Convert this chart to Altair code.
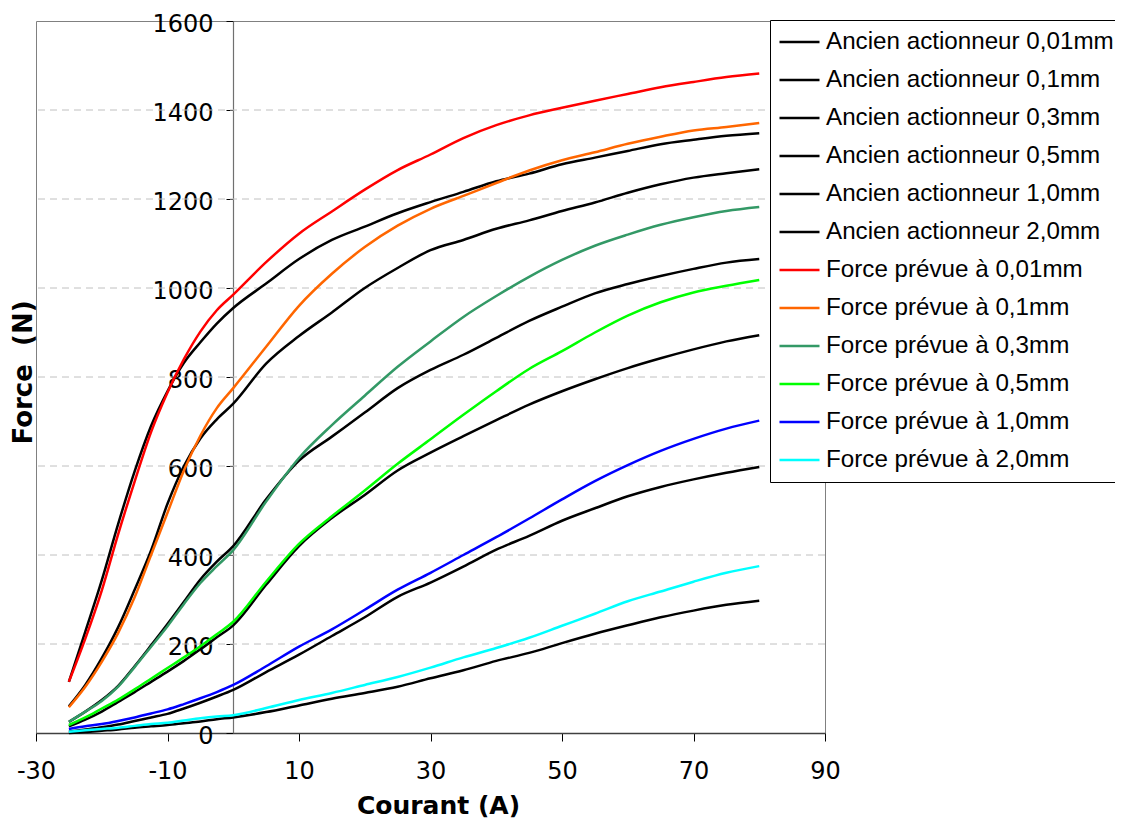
import altair as alt
import pandas as pd

courant = [-25, -22.5, -20, -17.5, -15, -12.5, -10, -7.5, -5, -2.5, 0, 5, 10, 15, 20, 25,
           30, 35, 40, 45, 50, 55, 60, 65, 70, 75, 80]

ancien_001 = [115, 228, 343, 470, 588, 690, 768, 832, 878, 920, 955, 1010, 1065, 1108, 1138, 1168,
              1193, 1216, 1240, 1257, 1278, 1293, 1308, 1323, 1333, 1342, 1348]
ancien_01 = [60, 108, 168, 238, 322, 410, 515, 600, 662, 705, 740, 830, 892, 945, 1000, 1045,
             1085, 1108, 1133, 1152, 1173, 1192, 1214, 1233, 1248, 1258, 1267]
ancien_03 = [25, 48, 74, 106, 150, 197, 245, 295, 345, 385, 420, 525, 612, 666, 720, 775,
             816, 850, 888, 926, 958, 988, 1009, 1027, 1043, 1057, 1065]
ancien_05 = [15, 30, 48, 70, 92, 115, 138, 162, 188, 215, 242, 333, 420, 483, 535, 590,
             630, 667, 703, 738, 768, 795, 820, 842, 862, 880, 894]
ancien_10 = [3, 8, 13, 19, 27, 35, 43, 55, 68, 82, 97, 137, 176, 218, 260, 306,
             338, 374, 412, 443, 477, 505, 532, 553, 570, 585, 598]
ancien_20 = [0, 2, 5, 8, 12, 15, 18, 22, 26, 31, 35, 47, 62, 77, 90, 104,
             123, 141, 162, 180, 202, 223, 242, 260, 275, 288, 297]

prevue_001 = [115, 212, 320, 447, 565, 676, 765, 840, 902, 950, 985, 1058, 1122, 1172, 1221, 1265,
              1300, 1337, 1366, 1388, 1405, 1421, 1436, 1451, 1463, 1474, 1482]
prevue_01 = [58, 104, 160, 225, 305, 400, 495, 590, 668, 730, 775, 868, 960, 1032, 1092, 1140,
             1178, 1207, 1236, 1264, 1287, 1305, 1324, 1340, 1354, 1362, 1371]
prevue_03 = [25, 48, 72, 104, 148, 194, 240, 290, 337, 375, 411, 520, 618, 692, 758, 823,
             880, 935, 982, 1025, 1063, 1095, 1120, 1142, 1159, 1173, 1182]
prevue_05 = [18, 35, 55, 75, 98, 122, 146, 170, 195, 222, 250, 340, 425, 487, 545, 605,
             660, 715, 768, 818, 858, 900, 938, 968, 990, 1005, 1018]
prevue_10 = [9, 15, 20, 27, 35, 44, 53, 65, 78, 92, 108, 150, 194, 233, 277, 322,
             360, 400, 440, 482, 525, 566, 602, 634, 661, 684, 702]
prevue_20 = [3, 6, 9, 12, 16, 20, 23, 28, 33, 37, 40, 56, 74, 90, 108, 126,
             147, 170, 191, 214, 241, 268, 296, 318, 340, 360, 375]

ancien_names = ["Ancien actionneur 0,01mm", "Ancien actionneur 0,1mm", "Ancien actionneur 0,3mm",
                "Ancien actionneur 0,5mm", "Ancien actionneur 1,0mm", "Ancien actionneur 2,0mm"]
prevue_names = ["Force prévue à 0,01mm", "Force prévue à 0,1mm", "Force prévue à 0,3mm",
                "Force prévue à 0,5mm", "Force prévue à 1,0mm", "Force prévue à 2,0mm"]
series_colors = ["#000000"] * 6 + ["#FF0000", "#FF6600", "#339966", "#00FF00", "#0000FF", "#00FFFF"]

grid_values = [200, 400, 600, 800, 1000, 1200, 1400]
y_ticks = [0, 200, 400, 600, 800, 1000, 1200, 1400, 1600]
x_ticks = [-30, -10, 10, 30, 50, 70, 90]


def long_frame(names, arrays):
    rows = []
    for name, vals in zip(names, arrays):
        for xv, yv in zip(courant, vals):
            rows.append({"Courant": xv, "Force": yv, "Série": name})
    return pd.DataFrame(rows)


df_ancien = long_frame(ancien_names, [ancien_001, ancien_01, ancien_03, ancien_05, ancien_10, ancien_20])
df_prevue = long_frame(prevue_names, [prevue_001, prevue_01, prevue_03, prevue_05, prevue_10, prevue_20])
df_grid = pd.DataFrame({"Force": grid_values})

x_scale = alt.Scale(domain=[-30, 90], nice=False, zero=False)
y_scale = alt.Scale(domain=[0, 1600], nice=False)

x_axis = alt.Axis(values=x_ticks, grid=False, tickSize=8, tickColor="#000000", tickWidth=1,
                  domainColor="#404040", domainWidth=1.5,
                  labelFont="DejaVu Sans", labelFontSize=24, labelColor="#000000",
                  labelPadding=18, labelFlush=False, labelOverlap=False,
                  labelExpr="'' + datum.value",
                  title="Courant (A)", titleFont="DejaVu Sans", titleFontSize=25,
                  titleFontWeight="bold", titleColor="#000000",
                  titleX=402, titleY=72, titleAlign="center", titleBaseline="middle")

y_axis = alt.Axis(values=y_ticks, grid=False, offset=-197, tickSize=7, tickColor="#000000",
                  domainColor="#707070", domainWidth=1.2,
                  labelFont="DejaVu Sans", labelFontSize=24, labelColor="#000000",
                  labelPadding=13, labelOverlap=False, labelOffset=3,
                  labelExpr="'' + datum.value",
                  title="Force\u00a0 (N)", titleFont="DejaVu Sans", titleFontSize=26,
                  titleFontWeight="bold", titleColor="#000000",
                  titleX=-210, titleY=351, titleAngle=270, titleAlign="center",
                  titleBaseline="middle")

color_scale = alt.Scale(domain=ancien_names + prevue_names, range=series_colors)
legend = alt.Legend(orient="none", legendX=734, legendY=-1, symbolType="stroke",
                    symbolSize=1600, symbolStrokeWidth=2.5, labelFont="Liberation Sans",
                    labelFontSize=24.2, labelColor="#000000", labelOffset=5, symbolOffset=5,
                    padding=3, strokeColor="#000000", fillColor="#FFFFFF", clipHeight=38,
                    rowPadding=0, labelLimit=500)

grid = alt.Chart(df_grid).mark_rule(color="#C0C0C0", strokeDash=[7, 5], strokeWidth=1).encode(
    y=alt.Y("Force:Q", scale=y_scale, axis=y_axis)
)

lines_ancien = alt.Chart(df_ancien).mark_line(strokeWidth=2.5, interpolate="monotone").encode(
    x=alt.X("Courant:Q", scale=x_scale, axis=x_axis),
    y=alt.Y("Force:Q", scale=y_scale, axis=y_axis),
    color=alt.Color("Série:N", scale=color_scale, legend=legend, title=None),
)

lines_prevue = alt.Chart(df_prevue).mark_line(strokeWidth=2.5, interpolate="monotone").encode(
    x=alt.X("Courant:Q", scale=x_scale, axis=x_axis),
    y=alt.Y("Force:Q", scale=y_scale, axis=y_axis),
    color=alt.Color("Série:N", scale=color_scale, legend=legend, title=None),
)

chart = alt.layer(grid, lines_ancien, lines_prevue).properties(
    width=789, height=712,
    autosize=alt.AutoSizeParams(type="none"),
    padding={"left": 28, "top": 13, "right": 290, "bottom": 86},
    background="#FFFFFF",
).configure_view(stroke="#808080", strokeWidth=1)

chart.save("out.html", embed_options={"renderer": "svg", "actions": False})
